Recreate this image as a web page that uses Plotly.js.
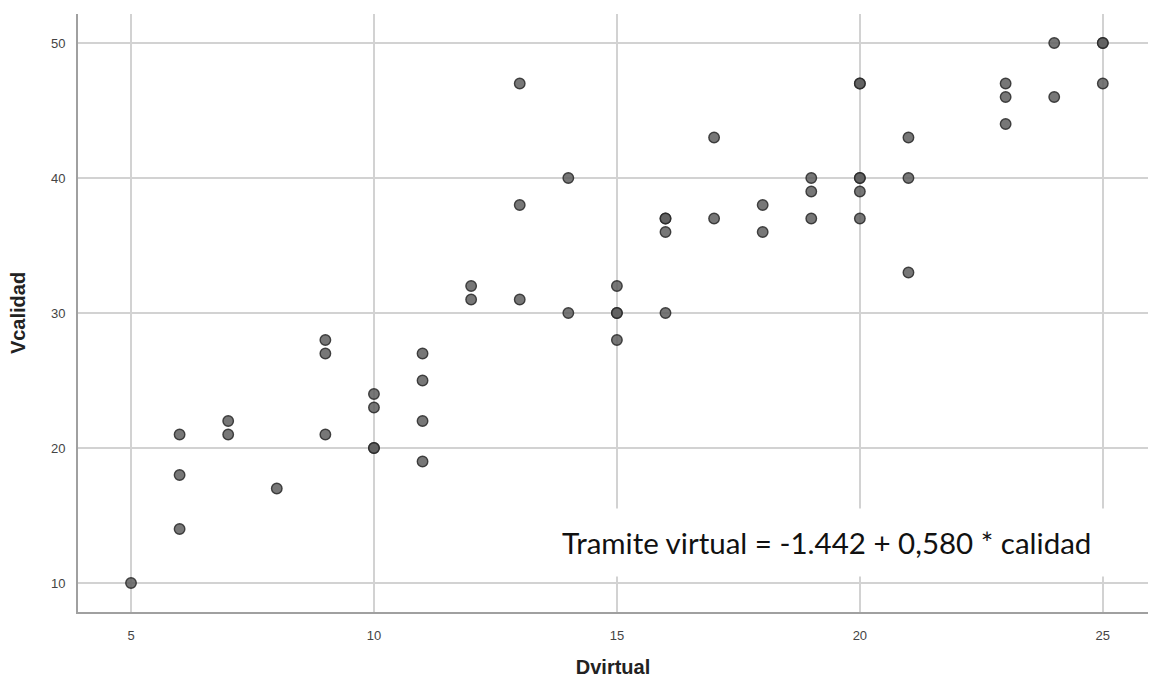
<!DOCTYPE html>
<html>
<head>
<meta charset="utf-8">
<script src="https://cdn.plot.ly/plotly-3.0.1.min.js"></script>
<style>html,body{margin:0;padding:0;background:#fff;}#chart{width:1151px;height:681px;}</style>
</head>
<body>
<div id="chart"></div>
<script>
// Data (duplicates appear darker in the original)
const dvirtual = [5, 6,6,6, 7,7, 8, 9,9,9, 10,10,10,10, 11,11,11,11, 12,12, 13,13,13, 14,14,
  15,15,15,15, 16,16,16,16, 17,17, 18,18, 19,19,19, 20,20,20,20,20,20, 21,21,21, 23,23,23, 24,24, 25,25,25];
const vcalidad = [10, 21,18,14, 22,21, 17, 28,27,21, 24,23,20,20, 27,25,22,19, 32,31, 47,38,31, 40,30,
  32,30,30,28, 37,37,36,30, 43,37, 38,36, 40,39,37, 47,47,40,40,39,37, 43,40,33, 47,46,44, 50,46, 50,50,47];
const xTicks = [5, 10, 15, 20, 25];
const yTicks = [10, 20, 30, 40, 50];
const xTitle = "Dvirtual";
const yTitle = "Vcalidad";
const equationText = "Tramite virtual = -1.442 + 0,580 * calidad";

const trace = {
  x: dvirtual, y: vcalidad, type: 'scatter', mode: 'markers',
  marker: {size: 10.5, color: 'rgba(95,95,95,0.85)', line: {color: 'rgba(40,40,40,0.85)', width: 1.4}},
  hoverinfo: 'x+y'
};

const layout = {
  width: 1151, height: 681,
  margin: {l: 78, r: 3, t: 14, b: 69},
  paper_bgcolor: '#fff', plot_bgcolor: '#fff',
  showlegend: false,
  font: {family: 'Liberation Sans, Arial, sans-serif', color: '#333'},
  xaxis: {
    range: [3.909, 25.93], tickvals: xTicks, ticktext: xTicks.map(String),
    showgrid: true, gridcolor: '#d2d2d2', gridwidth: 1.5,
    zeroline: false, showline: true, linecolor: '#a0a0a0', linewidth: 2,
    ticks: '', ticklabelstandoff: 10,
    tickfont: {size: 13, color: '#444'},
    title: {text: xTitle, font: {size: 20, color: '#222', weight: 'bold'}, standoff: 18}
  },
  yaxis: {
    range: [7.852, 52.15], tickvals: yTicks, ticktext: yTicks.map(String),
    showgrid: true, gridcolor: '#d2d2d2', gridwidth: 1.5,
    zeroline: false, showline: true, linecolor: '#a0a0a0', linewidth: 2,
    ticks: '', ticklabelstandoff: 8,
    tickfont: {size: 13, color: '#444'},
    title: {text: yTitle, font: {size: 20, color: '#222', weight: 'bold'}, standoff: 20}
  },
  annotations: [{
    text: equationText, xref: 'paper', yref: 'paper',
    x: 0.6995, y: 0.117, xanchor: 'center', yanchor: 'middle',
    showarrow: false, bgcolor: '#ffffff', borderpad: 16,
    font: {family: 'Lato, Open Sans, sans-serif', size: 29.5, color: '#111'}
  }]
};

Plotly.newPlot('chart', [trace], layout, {displayModeBar: false, staticPlot: true});
</script>
</body>
</html>
